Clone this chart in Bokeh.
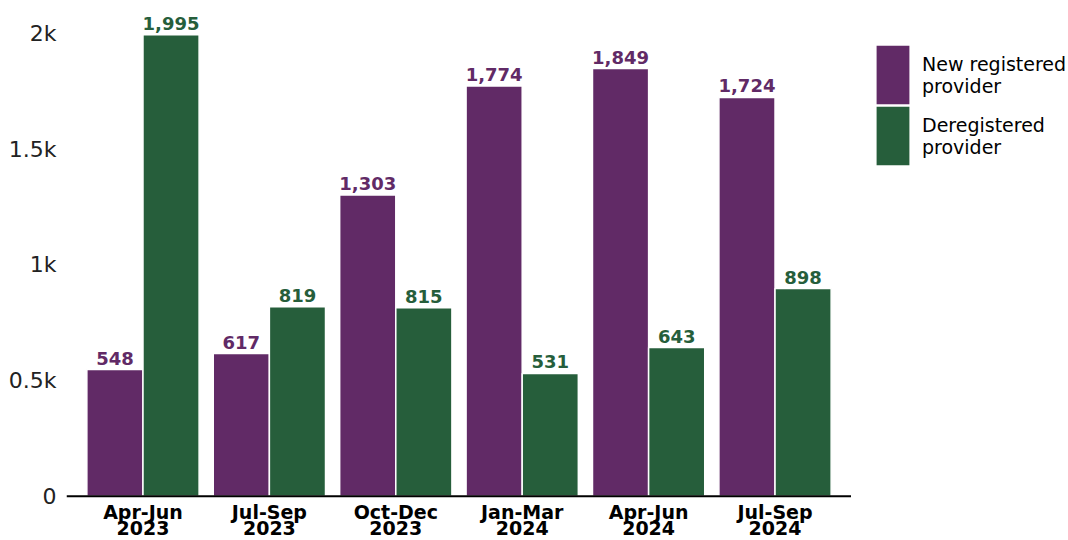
from bokeh.plotting import figure
from bokeh.models import ColumnDataSource, FactorRange, Legend, LegendItem, Range1d, FixedTicker, Span
from bokeh.transform import dodge
from bokeh.layouts import row
from bokeh.embed import file_html
from bokeh.resources import INLINE
from bokeh.core.properties import value

quarters = ["Apr-Jun 2023", "Jul-Sep 2023", "Oct-Dec 2023",
            "Jan-Mar 2024", "Apr-Jun 2024", "Jul-Sep 2024"]
quarter_line1 = ["Apr-Jun", "Jul-Sep", "Oct-Dec", "Jan-Mar", "Apr-Jun", "Jul-Sep"]
quarter_line2 = ["2023", "2023", "2023", "2024", "2024", "2024"]
new_registered = [548, 617, 1303, 1774, 1849, 1724]
deregistered = [1995, 819, 815, 531, 643, 898]
series_names = ["New registered\nprovider", "Deregistered\nprovider"]
y_ticks = [0, 500, 1000, 1500, 2000]
y_tick_labels = ["0", "0.5k", "1k", "1.5k", "2k"]

PURPLE = "#612a66"
GREEN = "#265e3b"
FONT = "DejaVu Sans"

source = ColumnDataSource(dict(
    quarter=quarters,
    line1=quarter_line1,
    line2=quarter_line2,
    zero=[0] * len(quarters),
    new=new_registered,
    dereg=deregistered,
    new_lbl=[f"{v:,}" for v in new_registered],
    dereg_lbl=[f"{v:,}" for v in deregistered],
))

p = figure(
    width=851, height=540,
    x_range=FactorRange(*quarters, range_padding=0.035, range_padding_units="percent"),
    y_range=Range1d(-191, 2100),
    output_backend="svg", toolbar_location=None,
    min_border_left=66, min_border_right=0, min_border_top=10, min_border_bottom=0,
)
p.outline_line_color = None
p.xgrid.grid_line_color = None
p.ygrid.grid_line_color = None
p.xaxis.visible = False
p.background_fill_color = "white"
p.border_fill_color = "white"

r1 = p.vbar(x=dodge("quarter", -0.222, range=p.x_range), top="new", width=0.444,
            source=source, fill_color=PURPLE, line_color="white", line_width=1.5)
r2 = p.vbar(x=dodge("quarter", 0.222, range=p.x_range), top="dereg", width=0.444,
            source=source, fill_color=GREEN, line_color="white", line_width=1.5)

p.text(x=dodge("quarter", -0.222, range=p.x_range), y="new", text="new_lbl", source=source,
       text_align="center", text_baseline="bottom", y_offset=-5,
       text_font=value(FONT), text_font_style="bold", text_font_size="18px", text_color=PURPLE)
p.text(x=dodge("quarter", 0.222, range=p.x_range), y="dereg", text="dereg_lbl", source=source,
       text_align="center", text_baseline="bottom", y_offset=-5,
       text_font=value(FONT), text_font_style="bold", text_font_size="18px", text_color=GREEN)

# category labels under the baseline
p.text(x="quarter", y="zero", text="line1", source=source, text_align="center",
       text_baseline="middle", y_offset=16, text_font=value(FONT), text_font_style="bold",
       text_font_size="19px", text_color="black")
p.text(x="quarter", y="zero", text="line2", source=source, text_align="center",
       text_baseline="middle", y_offset=32, text_font=value(FONT), text_font_style="bold",
       text_font_size="19px", text_color="black")

# baseline
p.add_layout(Span(location=0, dimension="width", line_color="black", line_width=2))

# y axis
p.yaxis.ticker = FixedTicker(ticks=y_ticks)
p.yaxis.major_label_overrides = {t: l for t, l in zip(y_ticks, y_tick_labels)}
p.yaxis.axis_line_color = None
p.yaxis.major_tick_line_color = None
p.yaxis.minor_tick_line_color = None
p.yaxis.major_tick_in = 0
p.yaxis.major_tick_out = 0
p.yaxis.major_label_text_font = FONT
p.yaxis.major_label_text_font_size = "22px"
p.yaxis.major_label_text_color = "#222222"
p.yaxis.major_label_standoff = 10

# legend figure
lp = figure(width=217, height=540, x_range=Range1d(0, 1), y_range=Range1d(0, 1),
            output_backend="svg", toolbar_location=None,
            min_border_left=0, min_border_right=0, min_border_top=0, min_border_bottom=0)
lp.axis.visible = False
lp.grid.visible = False
lp.outline_line_color = None
lp.background_fill_color = "white"
lp.border_fill_color = "white"
lr1 = lp.vbar(x=[0], top=[0], bottom=[0], width=0, fill_color=PURPLE, line_color=None)
lr2 = lp.vbar(x=[0], top=[0], bottom=[0], width=0, fill_color=GREEN, line_color=None)

legend_style = dict(
    glyph_width=41, glyph_height=73, spacing=0,
    label_standoff=9, label_text_font=FONT, label_text_font_size="19px",
    label_text_line_height=1.05, label_text_color="black",
    margin=0, padding=0, border_line_alpha=0, background_fill_alpha=0,
)
legend1 = Legend(items=[LegendItem(label=series_names[0], renderers=[lr1])],
                 location=(21, 429), **legend_style)
legend2 = Legend(items=[LegendItem(label=series_names[1], renderers=[lr2])],
                 location=(21, 368), **legend_style)
lp.add_layout(legend1, "center")
lp.add_layout(legend2, "center")

layout = row(p, lp)
open("out.html", "w").write(file_html(layout, INLINE))
